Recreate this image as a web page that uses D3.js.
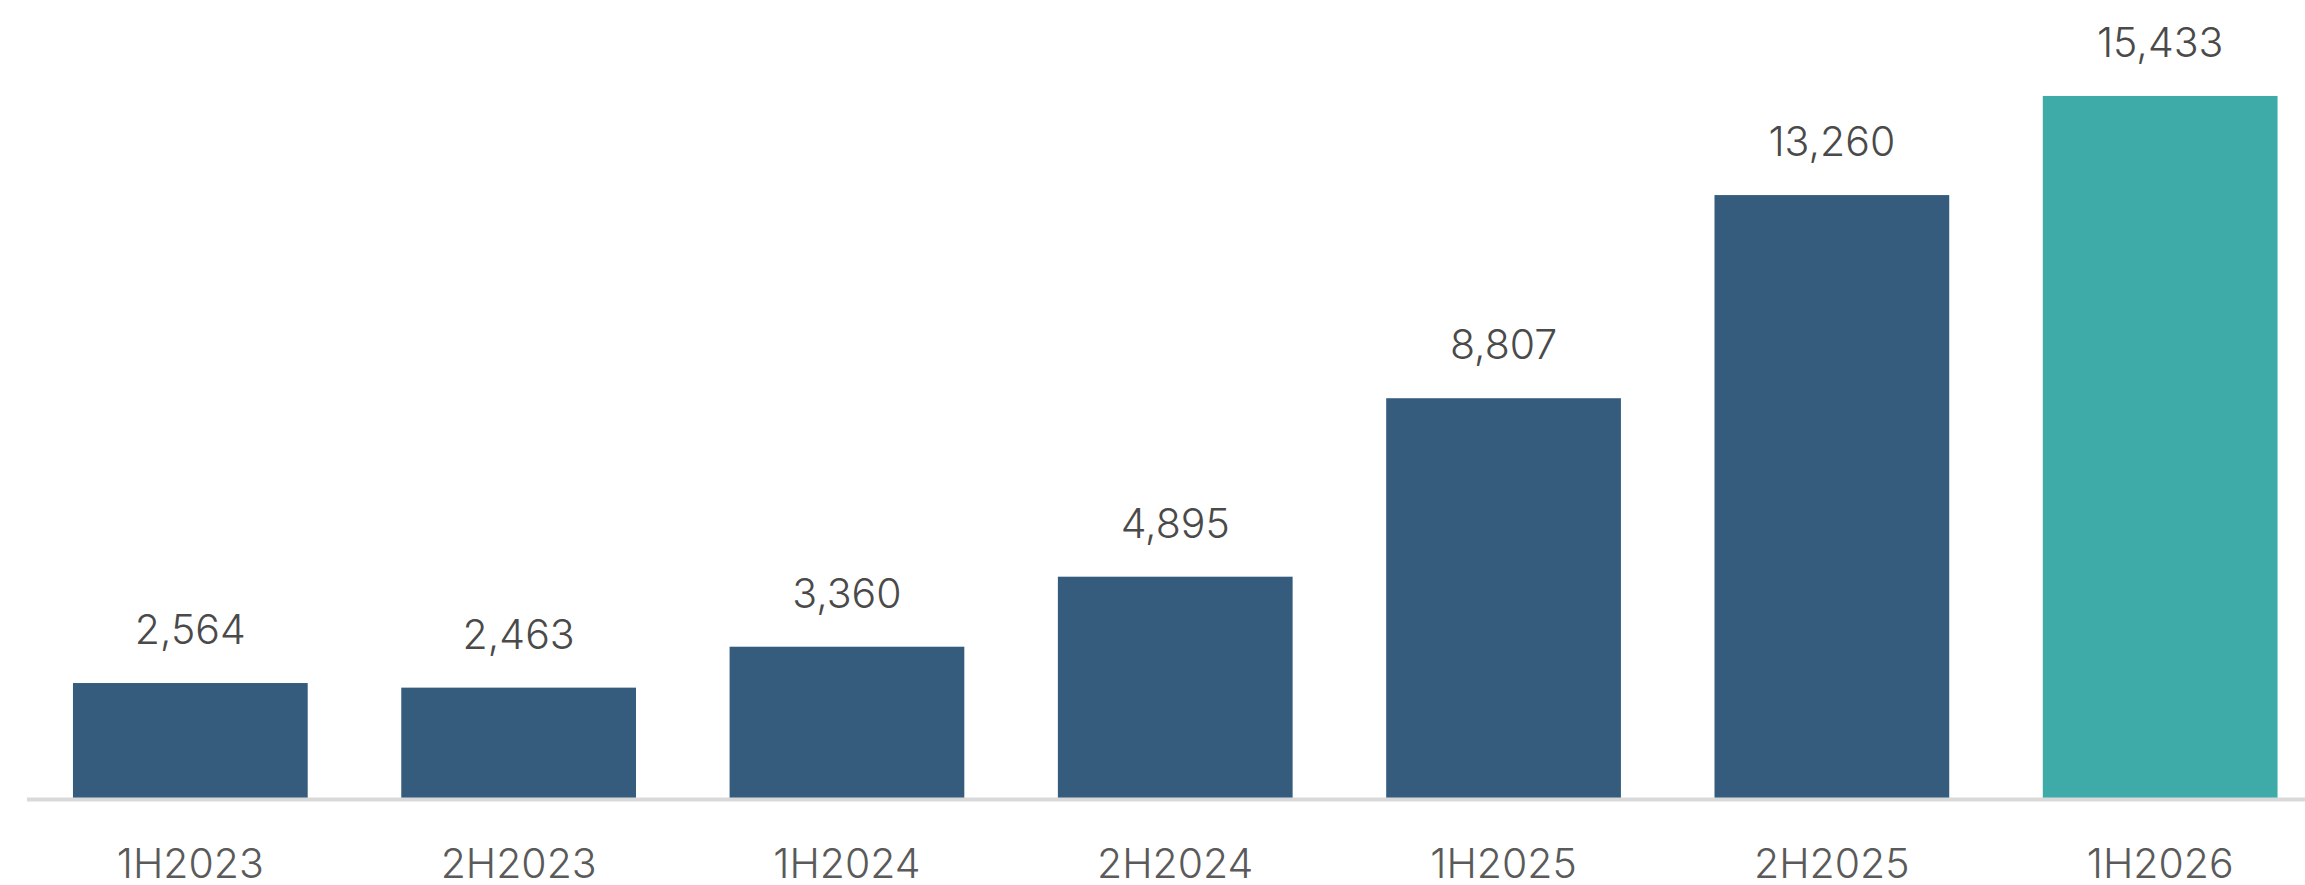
<!DOCTYPE html>
<html lang="en">
<head>
  <meta charset="utf-8">
  <title>Half-year totals</title>
  <script src="https://d3js.org/d3.v7.min.js"></script>
  <style>
    html, body { margin: 0; padding: 0; background: #fff; }
  </style>
</head>
<body>
<script>
  // chart data
  var categories = ["1H2023", "2H2023", "1H2024", "2H2024", "1H2025", "2H2025", "1H2026"];
  var values = [2564, 2463, 3360, 4895, 8807, 13260, 15433];
  var highlight = ["1H2026"];

  var svg_width = 2305;
  var svg_height = 885;
  var baseline = 800;

  var svg = d3.select("body")
              .append("svg")
              .attr("width", svg_width)
              .attr("height", svg_height);

  var dataset = categories.map(function(c, i) {
    return { cat: c, value: values[i] };
  });

  // x scale, spread so the right outer gap runs past the edge
  var xScale = d3.scaleBand()
                 .domain(categories)
                 .range([27, 2323.5])
                 .paddingInner(0.285)
                 .paddingOuter(0.14);

  var yScale = d3.scaleLinear()
                 .domain([0, 16000])
                 .range([baseline, baseline - 16000 * 0.04562]);

  // bars
  svg.selectAll("rect.bar")
     .data(dataset)
     .enter()
       .append("rect")
       .attr("class", "bar")
       .attr("x", function(d) { return xScale(d.cat); })
       .attr("y", function(d) { return yScale(d.value); })
       .attr("width", xScale.bandwidth())
       .attr("height", function(d) { return baseline - yScale(d.value); })
       .attr("fill", function(d) {
         return highlight.indexOf(d.cat) >= 0 ? "#3eaba8" : "#355c7d";
       });

  // baseline
  svg.append("line")
     .attr("x1", 27)
     .attr("x2", svg_width)
     .attr("y1", baseline - 0.5)
     .attr("y2", baseline - 0.5)
     .attr("stroke", "#d9d9d9")
     .attr("stroke-width", 4);

  // value labels
  var fmt = d3.format(",");
  svg.selectAll("text.val")
     .data(dataset)
     .enter()
       .append("text")
       .attr("class", "val")
       .text(function(d) { return fmt(d.value); })
       .attr("x", function(d) { return xScale(d.cat) + xScale.bandwidth() / 2; })
       .attr("y", function(d) { return yScale(d.value) - 39; })
       .attr("text-anchor", "middle")
       .attr("font-family", "Inter, sans-serif")
       .attr("font-weight", 300)
       .attr("font-size", "41px")
       .attr("fill", "#4a4a4a");

  // category labels
  svg.selectAll("text.cat")
     .data(dataset)
     .enter()
       .append("text")
       .attr("class", "cat")
       .text(function(d) { return d.cat; })
       .attr("x", function(d) { return xScale(d.cat) + xScale.bandwidth() / 2; })
       .attr("y", 878)
       .attr("text-anchor", "middle")
       .attr("font-family", "Inter, sans-serif")
       .attr("font-weight", 300)
       .attr("font-size", "41px")
       .attr("fill", "#5a5a5a");
</script>
</body>
</html>
